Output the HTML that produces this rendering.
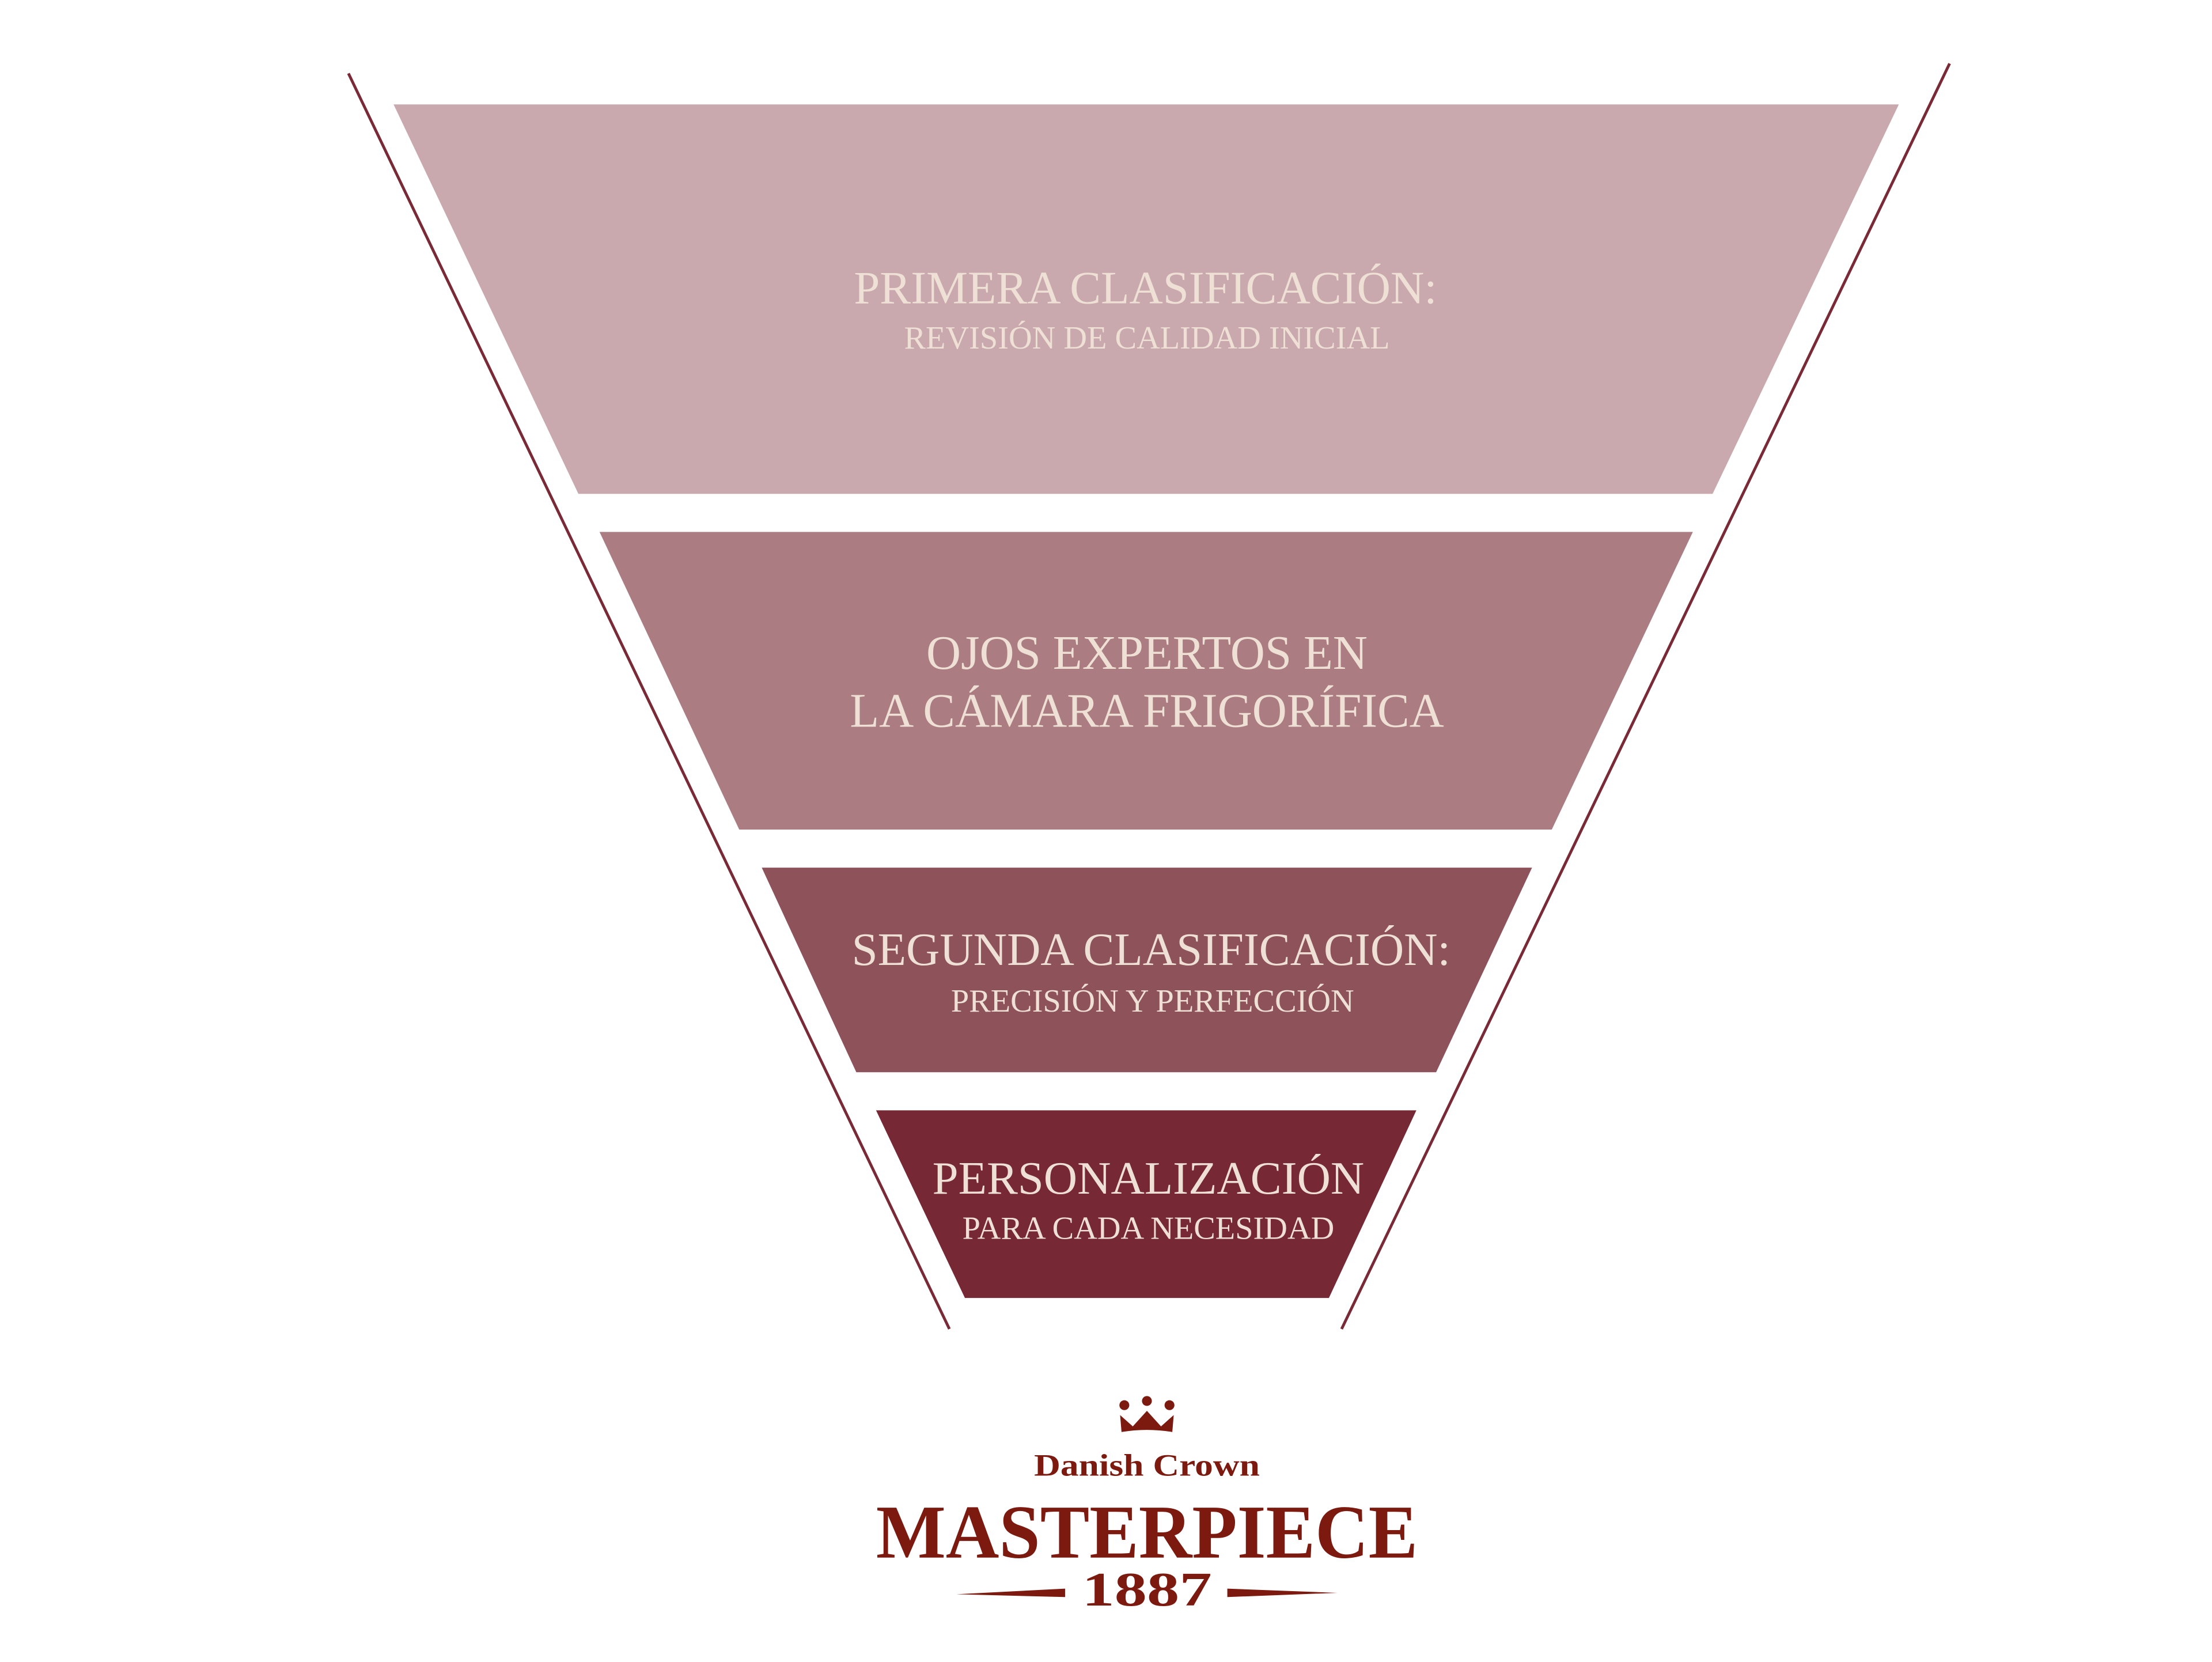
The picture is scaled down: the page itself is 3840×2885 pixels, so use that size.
<!DOCTYPE html>
<html><head><meta charset="utf-8"><style>
html,body{margin:0;padding:0;background:#fff;}
svg{display:block;}
</style></head><body>
<svg width="3840" height="2885" viewBox="0 0 1568 1178" xmlns="http://www.w3.org/2000/svg">
<rect width="1568" height="1178" fill="#fff"/>
<line x1="247" y1="52" x2="673" y2="942" stroke="#7a2a36" stroke-width="2"/>
<line x1="1382" y1="45" x2="951" y2="942" stroke="#7a2a36" stroke-width="2"/>
<polygon points="279,74 1346,74 1214,350 410,350" fill="#c9a9ae"/>
<polygon points="425,377 1200,377 1100,588 524,588" fill="#ab7c82"/>
<polygon points="540,615 1086,615 1018,760 607,760" fill="#8e525b"/>
<polygon points="621,787 1004,787 942,920 684,920" fill="#762834"/>
<g font-family="'Liberation Serif', serif" fill="#efe0d6" text-anchor="middle">
<text x="812" y="215" font-size="33">PRIMERA CLASIFICACIÓN:</text>
<text x="813" y="247" font-size="23">REVISIÓN DE CALIDAD INICIAL</text>
<text x="813" y="474" font-size="34">OJOS EXPERTOS EN</text>
<text x="813" y="515" font-size="34">LA CÁMARA FRIGORÍFICA</text>
<text x="816" y="684" font-size="33">SEGUNDA CLASIFICACIÓN:</text>
<text x="817" y="717" font-size="23">PRECISIÓN Y PERFECCIÓN</text>
<text x="814" y="846" font-size="33">PERSONALIZACIÓN</text>
<text x="814" y="878" font-size="23">PARA CADA NECESIDAD</text>
</g>
<g fill="#7c1a10">
<circle cx="797" cy="996" r="3.5"/><circle cx="813" cy="993" r="3.5"/><circle cx="829" cy="996" r="3.5"/>
<path d="M794,1003 L803,1011 L813,1000 L823,1011 L832,1003 L831,1015 Q813,1012 795,1015 Z"/>
<text x="813" y="1046" font-family="'Liberation Serif', serif" font-weight="bold" font-size="22" text-anchor="middle" textLength="160" lengthAdjust="spacingAndGlyphs">Danish Crown</text>
<text x="813" y="1104" font-family="'Liberation Serif', serif" font-weight="bold" font-size="54" text-anchor="middle" textLength="384" lengthAdjust="spacingAndGlyphs">MASTERPIECE</text>
<text x="813" y="1138" font-family="'Liberation Serif', serif" font-weight="bold" font-size="34" text-anchor="middle" textLength="92" lengthAdjust="spacingAndGlyphs">1887</text>
<polygon points="678,1130 755,1126 755,1132"/>
<polygon points="870,1126 948,1129 870,1132"/>
</g>
</svg>
</body></html>
